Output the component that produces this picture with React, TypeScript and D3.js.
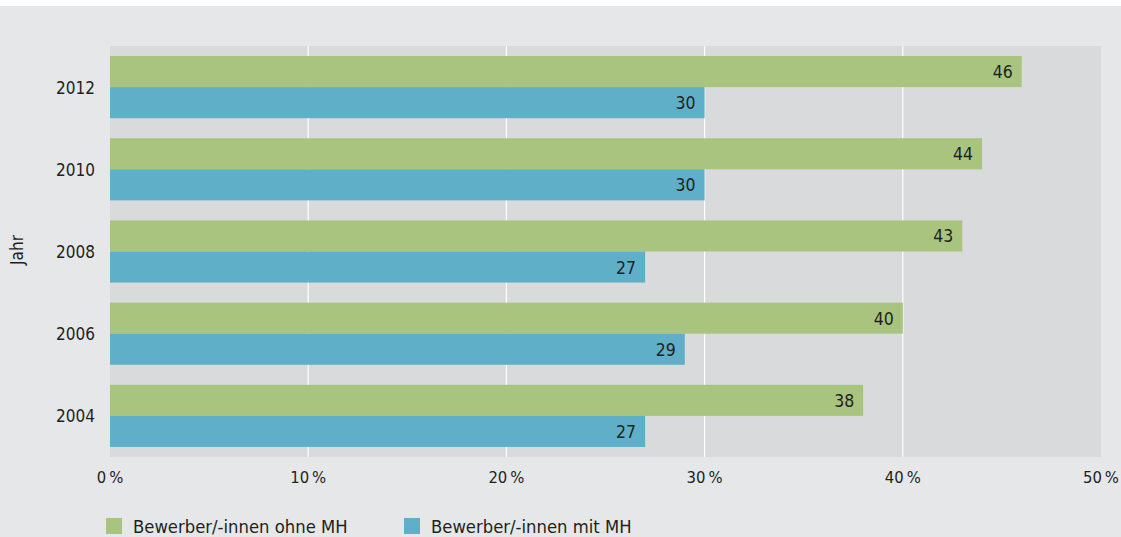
import React from "react";
import * as d3 from "d3";

const years = ["2012", "2010", "2008", "2006", "2004"];
const ohneMH = [46, 44, 43, 40, 38];
const mitMH = [30, 30, 27, 29, 27];
const xTicks = [0, 10, 20, 30, 40, 50];
const seriesNames = ["Bewerber/-innen ohne MH", "Bewerber/-innen mit MH"];
const colors = ["#a9c47f", "#5fafc9"];

const W = 1121, H = 537;
const left = 110, right = 1101, top = 46, bottom = 457;
const font = "'Liberation Sans Narrow', 'DejaVu Sans Condensed', 'Roboto Condensed', sans-serif";

export default function App() {
  const x = d3.scaleLinear().domain([0, 50]).range([left, right]);
  const y = d3.scaleBand().domain(years).range([top, bottom]).paddingInner(20 / 82).paddingOuter(10 / 82);
  const bw = y.bandwidth() / 2;
  const series = [ohneMH, mitMH];
  return (
    <svg width={W} height={H} style={{ position: "absolute", left: 0, top: 0, display: "block" }} fontFamily={font}>
      <rect x={0} y={0} width={W} height={H} fill="#fff" />
      <rect x={0} y={6} width={W} height={H - 6} fill="#e6e7e9" />
      <rect x={left} y={top} width={right - left} height={bottom - top} fill="#d9dadc" />
      {xTicks.slice(1, -1).map((t) => (
        <line key={t} x1={x(t)} x2={x(t)} y1={top} y2={bottom} stroke="#fff" strokeWidth={1.2} />
      ))}
      {years.map((yr, i) => (
        <g key={yr}>
          {series.map((s, j) => {
            const y0 = (y(yr) as number) + j * bw;
            return (
              <g key={j}>
                <rect x={x(0)} y={y0} width={x(s[i]) - x(0)} height={bw} fill={colors[j]} />
                <text x={x(s[i]) - 9} y={y0 + bw / 2 + 6.5} textAnchor="end" fontSize={17.5} fill="#231f20">
                  {s[i]}
                </text>
              </g>
            );
          })}
          <text x={95} y={(y(yr) as number) + bw + 6.5} textAnchor="end" fontSize={17} fill="#231f20">
            {yr}
          </text>
        </g>
      ))}
      {xTicks.map((t) => (
        <text key={t} x={x(t)} y={483} textAnchor="middle" fontSize={16.5} fill="#231f20">
          {t + "\u2009%"}
        </text>
      ))}
      <text transform={`translate(23,250) rotate(-90)`} textAnchor="middle" fontSize={17} fill="#231f20">
        Jahr
      </text>
      {seriesNames.map((n, j) => {
        const lx = j === 0 ? 106 : 404;
        return (
          <g key={n}>
            <rect x={lx} y={518} width={16} height={16} fill={colors[j]} />
            <text x={lx + 27} y={533} fontSize={18.3} fill="#231f20">
              {n}
            </text>
          </g>
        );
      })}
    </svg>
  );
}
